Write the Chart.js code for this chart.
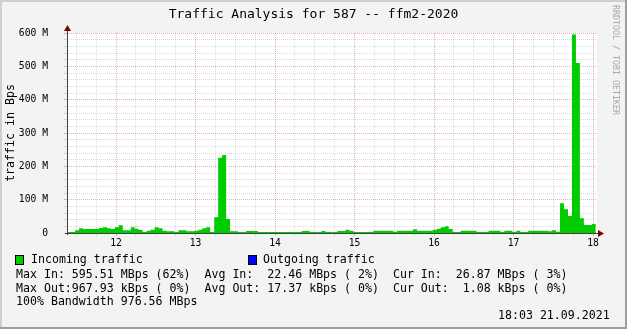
<!DOCTYPE html>
<html><head><meta charset="utf-8">
<script src="https://cdn.jsdelivr.net/npm/chart.js@4.4.1/dist/chart.umd.min.js"></script>
<style>
html,body{margin:0;padding:0;background:#F3F3F3;}
#wrap{position:relative;width:627px;height:329px;overflow:hidden;}
#c{position:absolute;left:0;top:0;}
.t{position:absolute;white-space:pre;font-family:"DejaVu Sans Mono",monospace;font-size:11.6px;line-height:11.6px;color:#000;}
.box{position:absolute;width:7px;height:8px;border:1px solid #000;}
#title{font-size:13px;line-height:13px;left:0;width:627px;text-align:center;}
#wm{position:absolute;left:612px;top:5px;font-family:"DejaVu Sans Mono",monospace;font-size:8.3px;line-height:8px;color:#A8A8A8;writing-mode:vertical-rl;white-space:pre;}
</style></head>
<body><div id="wrap">
<canvas id="c" width="627" height="329"></canvas>
<div class="t" id="title" style="top:7px"></div>
<div id="wm"></div>
<div class="box" style="left:15px;top:255px;background:#00CC00"></div>
<div class="t" id="lg0" style="left:31px;top:254px"></div>
<div class="box" style="left:248px;top:255px;background:#0000FF"></div>
<div class="t" id="lg1" style="left:263px;top:254px"></div>
<div class="t" id="s0" style="left:16px;top:269px"></div>
<div class="t" id="s1" style="left:16px;top:283px"></div>
<div class="t" id="s2" style="left:16px;top:296px"></div>
<div class="t" id="s3" style="left:498px;top:310px"></div>
</div>
<script>
// ---- data ----
const chartTitle = 'Traffic Analysis for 587 -- ffm2-2020';
const yAxisTitle = 'traffic in Bps';
const seriesNames = ['Incoming traffic', 'Outgoing traffic'];
const statLines = [
  'Max In: 595.51 MBps (62%)  Avg In:  22.46 MBps ( 2%)  Cur In:  26.87 MBps ( 3%)',
  'Max Out:967.93 kBps ( 0%)  Avg Out: 17.37 kBps ( 0%)  Cur Out:  1.08 kBps ( 0%)',
  '100% Bandwidth 976.56 MBps'
];
const stampText = '18:03 21.09.2021';
const watermark = 'RRDTOOL / TOBI OETIKER';

// time window in minutes since midnight (11:23 .. 18:03)
const windowStart = 683;
const windowEnd = 1083;
const firstSample = 683.1;   // start of first 3-minute sample
const sampleStep = 3;        // minutes
const hourLabels = ['12', '13', '14', '15', '16', '17', '18'];
const yLabels = ['0', '100 M', '200 M', '300 M', '400 M', '500 M', '600 M'];

// incoming traffic, MBps, one value per 3-minute sample
const incoming = [
  3,3,8,14,12,12,12,12,15,17,
  14,12,17,23,8,8,17,13,9,3,
  7,10,17,14,7,5,5,2,8,8,
  5,5,7,10,14,17,3,47,226,234,
  42,5,5,2,2,6,6,6,3,3,
  3,3,3,3,3,3,3,3,3,6,
  6,3,3,3,6,3,3,3,6,6,
  10,7,3,3,3,3,3,7,7,7,
  7,7,4,7,7,7,7,11,7,7,
  7,7,10,13,17,20,12,3,3,7,
  7,7,7,3,3,3,7,7,7,3,
  7,7,3,7,3,3,7,7,7,7,
  7,5,8,4,89,71,51,595.5,510,44,
  24,24,27
];
// outgoing traffic, MBps (kBps level, practically zero on this scale)
const outgoing = [
  0.02,0.02,0.02,0.02,0.02,0.02,0.02,0.02,0.02,0.02,
  0.02,0.02,0.02,0.02,0.02,0.02,0.02,0.02,0.02,0.02,
  0.02,0.02,0.02,0.02,0.02,0.02,0.02,0.02,0.02,0.02,
  0.02,0.02,0.02,0.02,0.02,0.02,0.02,0.05,0.3,0.3,
  0.05,0.02,0.02,0.02,0.02,0.02,0.02,0.02,0.01,0.01,
  0.01,0.01,0.01,0.01,0.01,0.01,0.01,0.01,0.01,0.01,
  0.01,0.01,0.01,0.01,0.01,0.01,0.01,0.01,0.01,0.01,
  0.01,0.01,0.01,0.01,0.01,0.01,0.01,0.01,0.01,0.01,
  0.01,0.01,0.01,0.01,0.01,0.01,0.01,0.01,0.01,0.01,
  0.01,0.01,0.01,0.01,0.02,0.02,0.01,0.01,0.01,0.01,
  0.01,0.01,0.01,0.01,0.01,0.01,0.01,0.01,0.01,0.01,
  0.01,0.01,0.01,0.01,0.01,0.01,0.01,0.01,0.01,0.01,
  0.01,0.01,0.01,0.01,0.1,0.08,0.05,0.97,0.8,0.05,
  0.01,0.01,0.001
];

// ---- text ----
document.getElementById('title').textContent = chartTitle;
document.getElementById('wm').textContent = watermark;
document.getElementById('lg0').textContent = seriesNames[0];
document.getElementById('lg1').textContent = seriesNames[1];
statLines.forEach((s, i) => document.getElementById('s' + i).textContent = s);
document.getElementById('s3').textContent = stampText;

// ---- build points ----
function toPoints(vals) {
  const pts = vals.map((v, i) => ({ x: firstSample + i * sampleStep, y: v }));
  pts.push({ x: firstSample + vals.length * sampleStep, y: vals[vals.length - 1] });
  return pts;
}
const xTicks = [];
for (let m = 690; m <= 1080; m += 15) xTicks.push(m);
const yTicks = [];
for (let v = 0; v <= 600; v += 20) yTicks.push(v);

const GRID = 'rgba(140,140,140,0.30)';
const MGRID = 'rgba(200,60,60,0.40)';
const MONO = '"DejaVu Sans Mono", monospace';

const frame = {
  id: 'frame',
  beforeDraw(chart) {
    const c = chart.ctx, a = chart.chartArea;
    c.save();
    c.fillStyle = '#F3F3F3';
    c.fillRect(0, 0, chart.width, chart.height);
    c.fillStyle = '#CFCFCF';
    c.fillRect(0, 0, chart.width, 2);
    c.fillRect(0, 0, 2, chart.height);
    c.fillStyle = '#9E9E9E';
    c.fillRect(0, chart.height - 2, chart.width, 2);
    c.fillRect(chart.width - 2, 0, 2, chart.height);
    c.fillStyle = '#FFFFFF';
    c.fillRect(a.left, a.top, a.right - a.left, a.bottom - a.top);
    c.restore();
  },
  afterDatasetsDraw(chart) {
    const c = chart.ctx, a = chart.chartArea;
    c.save();
    c.strokeStyle = '#404040';
    c.lineWidth = 1;
    c.beginPath();
    c.moveTo(a.left + 0.5, a.bottom + 2);
    c.lineTo(a.left + 0.5, a.top - 5);
    c.moveTo(a.left - 2, a.bottom + 0.5);
    c.lineTo(a.right + 3, a.bottom + 0.5);
    c.stroke();
    c.fillStyle = '#7F0000';
    c.beginPath();
    c.moveTo(a.left + 0.5, a.top - 8);
    c.lineTo(a.left - 3, a.top - 2);
    c.lineTo(a.left + 4, a.top - 2);
    c.closePath();
    c.fill();
    c.beginPath();
    c.moveTo(a.right + 7, a.bottom + 0.5);
    c.lineTo(a.right + 1, a.bottom - 3);
    c.lineTo(a.right + 1, a.bottom + 4);
    c.closePath();
    c.fill();
    c.restore();
  }
};

new Chart(document.getElementById('c'), {
  type: 'line',
  data: {
    datasets: [
      { label: seriesNames[0], data: toPoints(incoming), stepped: true, fill: 'origin',
        backgroundColor: '#00CC00', borderColor: 'rgba(0,0,0,0)', borderWidth: 0, pointRadius: 0 },
      { label: seriesNames[1], data: toPoints(outgoing), stepped: true, fill: false,
        borderColor: '#0000FF', borderWidth: 1, pointRadius: 0 }
    ]
  },
  options: {
    responsive: false, animation: false, devicePixelRatio: 1,
    layout: { padding: { left: 0, top: 33, right: 30, bottom: 76 } },
    plugins: { legend: { display: false }, title: { display: false }, tooltip: { enabled: false } },
    scales: {
      x: {
        type: 'linear', min: windowStart, max: windowEnd,
        afterBuildTicks: ax => { ax.ticks = xTicks.map(v => ({ value: v })); },
        afterFit: ax => { ax.height = 20; },
        grid: { color: c => (c.tick && c.tick.value % 60 === 0) ? MGRID : GRID, lineWidth: 1,
                drawTicks: true, tickLength: 3, tickColor: c => (c.tick && c.tick.value % 60 === 0) ? MGRID : GRID },
        border: { display: false, dash: [1, 1] },
        ticks: { autoSkip: false, maxRotation: 0, padding: 2, color: '#000',
                 font: { family: MONO, size: 9.7 },
                 callback: v => v % 60 === 0 ? hourLabels[(v - 720) / 60] : '' }
      },
      y: {
        min: 0, max: 600,
        afterBuildTicks: ax => { ax.ticks = yTicks.map(v => ({ value: v })); },
        afterFit: ax => { ax.width = 67; },
        grid: { color: c => (c.tick && c.tick.value % 100 === 0) ? MGRID : GRID, lineWidth: 1,
                drawTicks: true, tickLength: 3, tickColor: c => (c.tick && c.tick.value % 100 === 0) ? MGRID : GRID },
        border: { display: false, dash: [1, 1] },
        ticks: { autoSkip: false, padding: 16, color: '#000',
                 font: { family: MONO, size: 9.7 },
                 callback: v => v % 100 === 0 ? yLabels[v / 100] : '' },
        title: { display: true, text: yAxisTitle, color: '#000', font: { family: MONO, size: 11.6 },
                 padding: { top: 4, bottom: 0 } }
      }
    }
  },
  plugins: [frame]
});
</script>
</body></html>
